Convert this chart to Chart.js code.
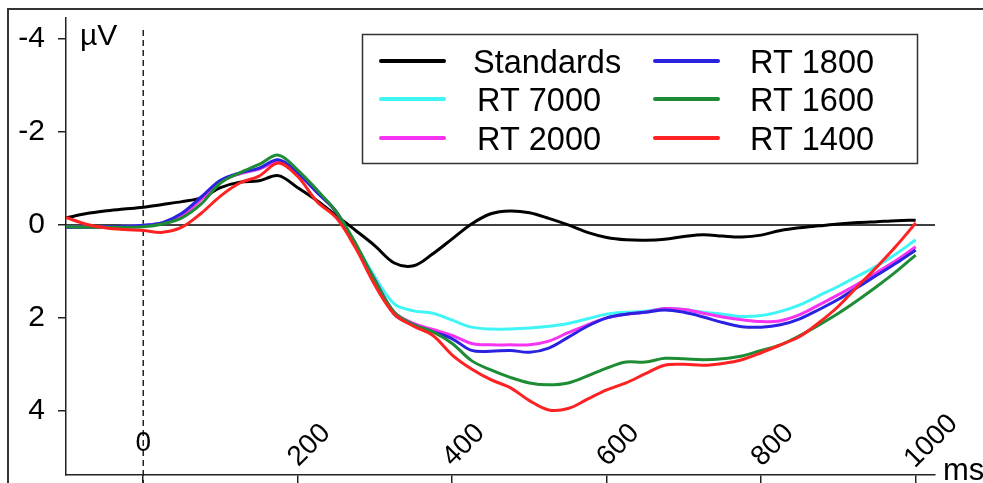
<!DOCTYPE html>
<html>
<head>
<meta charset="utf-8">
<script src="https://cdn.jsdelivr.net/npm/chart.js@4.4.1/dist/chart.umd.min.js"></script>
<style>
  html, body { margin: 0; padding: 0; background: #fff; }
  #wrap { width: 983px; height: 483px; }
</style>
</head>
<body>
<div id="wrap"><canvas id="erp" width="983" height="483"></canvas></div>
<script>
// time axis (ms) and amplitudes (µV, negative up)
const times = [-100,-75,-50,-25,0,25,50,75,100,125,150,175,200,225,250,275,300,325,350,375,400,425,450,475,500,525,550,575,600,625,650,675,700,725,750,775,800,825,850,875,900,925,950,975,1000];

const standards = [-0.15,-0.24,-0.3,-0.34,-0.38,-0.44,-0.5,-0.58,-0.8,-0.92,-0.95,-1.06,-0.8,-0.52,-0.2,0.12,0.45,0.82,0.88,0.62,0.3,-0.02,-0.24,-0.3,-0.26,-0.14,0.0,0.16,0.27,0.32,0.33,0.31,0.25,0.21,0.24,0.26,0.22,0.12,0.06,0.02,-0.02,-0.05,-0.07,-0.09,-0.1];
const rt7000 = [0.05,0.05,0.04,0.03,0.01,-0.04,-0.22,-0.58,-0.95,-1.1,-1.2,-1.36,-1.1,-0.7,-0.28,0.42,1.12,1.7,1.85,1.9,2.05,2.2,2.24,2.24,2.22,2.18,2.12,2.02,1.92,1.88,1.86,1.8,1.82,1.88,1.92,1.97,1.95,1.86,1.72,1.52,1.32,1.1,0.88,0.62,0.32];
const rt2000 = [0.05,0.05,0.04,0.03,0.01,-0.04,-0.2,-0.55,-0.93,-1.1,-1.2,-1.35,-1.1,-0.7,-0.28,0.45,1.18,1.88,2.12,2.25,2.38,2.55,2.58,2.58,2.58,2.5,2.32,2.15,2.0,1.92,1.88,1.8,1.82,1.9,1.98,2.04,2.08,2.06,1.93,1.72,1.5,1.27,1.02,0.76,0.47];
const rt1800 = [0.05,0.05,0.04,0.03,0.01,-0.05,-0.25,-0.6,-0.96,-1.12,-1.22,-1.4,-1.12,-0.7,-0.28,0.45,1.2,1.92,2.15,2.3,2.45,2.7,2.72,2.7,2.74,2.65,2.42,2.18,2.0,1.92,1.88,1.83,1.88,1.98,2.1,2.19,2.2,2.15,2.02,1.82,1.6,1.34,1.08,0.82,0.54];
const rt1600 = [0.04,0.05,0.05,0.05,0.04,-0.02,-0.15,-0.45,-0.9,-1.12,-1.3,-1.5,-1.18,-0.75,-0.28,0.4,1.2,1.88,2.15,2.3,2.55,2.92,3.12,3.28,3.4,3.44,3.4,3.25,3.08,2.95,2.95,2.87,2.88,2.9,2.88,2.82,2.7,2.58,2.38,2.15,1.9,1.62,1.32,1.0,0.65];
const rt1400 = [-0.16,-0.02,0.06,0.1,0.12,0.16,0.05,-0.25,-0.62,-0.9,-1.05,-1.33,-1.04,-0.5,-0.15,0.5,1.3,1.92,2.18,2.38,2.8,3.1,3.33,3.5,3.78,3.98,3.95,3.75,3.55,3.4,3.2,3.02,3.0,3.02,2.98,2.9,2.75,2.58,2.4,2.1,1.75,1.32,0.9,0.45,-0.04];

const seriesNames = ["Standards", "RT 7000", "RT 2000", "RT 1800", "RT 1600", "RT 1400"];
const seriesColors = ["#000000", "#3ff5f5", "#f533f0", "#2a22e0", "#1e8c34", "#ff2222"];
const xTicks = [0, 200, 400, 600, 800, 1000];
const yTicks = [-4, -2, 0, 2, 4];

const FONT = '"Liberation Sans", Arial, sans-serif';

const allSeries = [standards, rt7000, rt2000, rt1800, rt1600, rt1400];
const drawOrder = [5, 4, 3, 2, 1, 0]; // red on top

const datasets = allSeries.map((vals, i) => ({
  label: seriesNames[i],
  data: vals.map((v, j) => ({ x: times[j], y: v })),
  borderColor: seriesColors[i],
  borderWidth: 3,
  pointRadius: 0,
  tension: 0.35,
  fill: false,
  order: drawOrder[i]
}));

const decor = {
  id: 'decor',
  beforeDraw(chart) {
    const ctx = chart.ctx;
    ctx.save();
    ctx.fillStyle = '#fff';
    ctx.fillRect(0, 0, chart.width, chart.height);
    // outer frame
    ctx.strokeStyle = '#333';
    ctx.lineWidth = 2;
    ctx.beginPath();
    ctx.moveTo(8, 483);
    ctx.lineTo(8, 9);
    ctx.lineTo(983, 9);
    ctx.stroke();
    ctx.restore();
  },
  beforeDatasetsDraw(chart) {
    const ctx = chart.ctx;
    const { left, right } = chart.chartArea;
    const xs = chart.scales.x, ys = chart.scales.y;
    ctx.save();
    // zero line
    const y0 = ys.getPixelForValue(0);
    ctx.strokeStyle = '#000';
    ctx.lineWidth = 1.5;
    ctx.beginPath();
    ctx.moveTo(left, y0);
    ctx.lineTo(right, y0);
    ctx.stroke();
    // stimulus onset
    const x0 = xs.getPixelForValue(0);
    ctx.strokeStyle = '#222';
    ctx.setLineDash([6, 4]);
    ctx.beginPath();
    ctx.moveTo(x0, 30);
    ctx.lineTo(x0, 483);
    ctx.stroke();
    ctx.restore();
  },
  afterDraw(chart) {
    const ctx = chart.ctx;
    const xs = chart.scales.x;
    ctx.save();
    ctx.fillStyle = '#000';
    // x tick labels inside the plot, rotated
    ctx.font = '28px ' + FONT;
    xTicks.forEach(v => {
      const px = xs.getPixelForValue(v);
      const txt = String(v);
      const w = ctx.measureText(txt).width;
      ctx.save();
      ctx.textAlign = 'center';
      ctx.textBaseline = 'middle';
      if (v === 0) {
        ctx.fillText(txt, px, 443);
      } else {
        ctx.translate(px + 0.25 * w, 458 - 0.27 * w);
        ctx.rotate(-Math.PI / 4);
        ctx.fillText(txt, 0, 0);
      }
      ctx.restore();
    });
    // unit labels
    ctx.textAlign = 'left';
    ctx.textBaseline = 'middle';
    ctx.font = '30px ' + FONT;
    ctx.fillText('µV', 80, 37);
    ctx.textBaseline = 'alphabetic';
    ctx.font = '31px ' + FONT;
    ctx.fillText('ms', 943, 480);

    // legend
    ctx.strokeStyle = '#333';
    ctx.lineWidth = 1.5;
    ctx.strokeRect(362.5, 34.5, 555, 129);
    const rows = [61, 99, 138];
    const lineX = [[381, 444], [655, 718]];
    const textX = [475, 748];
    ctx.font = '32.5px ' + FONT;
    ctx.lineCap = 'round';
    chart.data.datasets.forEach((ds, i) => {
      const col = Math.floor(i / 3), row = i % 3;
      const y = rows[row];
      ctx.strokeStyle = ds.borderColor;
      ctx.lineWidth = 4;
      ctx.beginPath();
      ctx.moveTo(lineX[col][0], y);
      ctx.lineTo(lineX[col][1], y);
      ctx.stroke();
      ctx.fillStyle = '#000';
      ctx.fillText(ds.label, textX[col] + (i === 0 ? -2 : 2), y + 12);
    });
    ctx.restore();
  }
};

new Chart(document.getElementById('erp'), {
  type: 'line',
  data: { datasets: datasets },
  options: {
    responsive: false,
    animation: false,
    events: [],
    layout: { padding: { left: 0, right: 48, top: 18, bottom: 0 } },
    plugins: { legend: { display: false }, tooltip: { enabled: false } },
    scales: {
      x: {
        type: 'linear',
        min: -100,
        max: 1025,
        afterBuildTicks: s => { s.ticks = xTicks.map(v => ({ value: v })); },
        afterFit: s => { s.height = 8; s.paddingLeft = 0; s.paddingRight = 0; s.paddingTop = 0; s.paddingBottom = 0; },
        ticks: { display: false },
        grid: { drawOnChartArea: false, drawTicks: true, tickLength: 8, color: '#222', lineWidth: 1.5 },
        border: { display: true, color: '#222', width: 1.5 }
      },
      y: {
        type: 'linear',
        reverse: true,
        min: -4.45,
        max: 5.38,
        afterBuildTicks: s => { s.ticks = yTicks.map(v => ({ value: v })); },
        afterFit: s => { s.width = 66; s.paddingTop = 0; s.paddingBottom = 0; s.paddingLeft = 0; s.paddingRight = 0; },
        ticks: { color: '#000', padding: 13, font: { family: FONT, size: 30 } },
        grid: { drawOnChartArea: false, drawTicks: true, tickLength: 8, color: '#222', lineWidth: 1.5 },
        border: { display: true, color: '#222', width: 1.5 }
      }
    }
  },
  plugins: [decor]
});
</script>
</body>
</html>
